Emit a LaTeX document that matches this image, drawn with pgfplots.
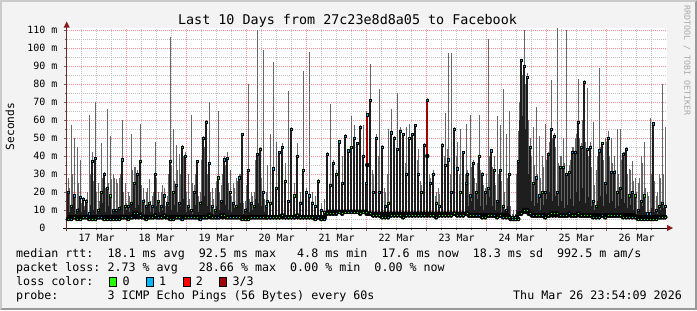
\documentclass[border=0pt]{standalone}
\usepackage{fontspec}
\setmainfont{DejaVu Sans Mono}
\setmonofont{DejaVu Sans Mono}
\usepackage{pgfplots}
\usepackage{pgfplotstable}
\pgfplotsset{compat=1.18}
\definecolor{bg}{HTML}{F3F3F3}
\definecolor{shadea}{HTML}{CBCBCB}
\definecolor{shadeb}{HTML}{999999}
\definecolor{mgrid}{HTML}{F39494}
\definecolor{mingrid}{HTML}{C2C2C2}
\definecolor{smoke}{HTML}{666666}
\definecolor{darkbar}{HTML}{1E1E1E}
\definecolor{lgreen}{HTML}{26FF00}
\definecolor{lblue}{HTML}{00B8FF}
\definecolor{lred}{HTML}{FF0000}
\definecolor{ldred}{HTML}{A10000}
\definecolor{arrowc}{HTML}{8B1A1A}
\definecolor{yaxisc}{HTML}{6B2B2B}
\definecolor{credit}{HTML}{A8A8A8}
\newcommand{\fs}[1]{\fontsize{#1bp}{#1bp}\selectfont}

% main columns: min, top of dark smoke (median), max, loss class
\pgfplotstableread{
x lo dk hi c
1.5 5 20 28 1
4.5 5 12 57 0
7.5 6 18 50 1
10.5 5 10 45 1
13.5 5 17 38 1
16.5 6 16 17 1
19.5 6 15 16 0
22.5 5 8 63 1
25.5 5 37 42 1
28.5 5 39 70 1
31.5 6 10 25 0
34.5 6 20 47 0
37.5 5 30 31 1
40.5 5 22 66 1
43.5 5 18 51 0
46.5 5 10 30 1
49.5 5 10 27 0
52.5 5 11 28 1
55.5 6 38 60 1
58.5 6 12 25 0
61.5 5 12 20 1
64.5 6 14 52 0
67.5 8 25 34 0
70.5 8 30 32 1
73.5 7 37 58 0
76.5 6 15 22 1
79.5 5 12 20 1
82.5 6 14 27 0
85.5 6 12 18 1
88.5 7 30 48 1
91.5 6 15 20 0
94.5 6 12 20 1
97.5 7 18 22 1
100.5 6 14 18 1
103.5 5 37 106 1
106.5 5 20 55 0
109.5 6 24 46 1
112.5 6 14 41 1
115.5 5 45 46 0
118.5 6 40 42 1
121.5 6 12 30 1
124.5 6 10 63 0
127.5 6 20 24 1
130.5 6 37 38 1
133.5 5 14 20 0
136.5 6 50 51 1
139.5 6 59 60 1
142.5 7 36 70 1
145.5 6 12 22 1
148.5 6 10 22 0
151.5 6 28 65 0
154.5 7 15 24 1
157.5 7 38 40 1
160.5 6 39 42 1
163.5 6 20 32 0
166.5 6 14 25 1
169.5 6 12 28 0
172.5 6 28 30 1
175.5 5 52 53 1
178.5 5 10 15 1
181.5 5 32 80 1
184.5 6 14 20 1
187.5 6 12 20 0
190.5 6 41 110 1
193.5 6 44 45 0
196.5 6 20 99 1
199.5 6 12 20 1
200.5 6 15 35 1
203.5 6 14 52 0
206.5 6 33 92 1
209.5 6 22 48 1
212.5 6 42 43 1
215.5 7 45 47 1
218.5 6 26 36 0
221.5 6 15 76 1
224.5 6 55 56 1
227.5 6 18 25 0
230.5 7 40 47 1
233.5 6 14 20 1
236.5 6 32 87 0
239.5 6 20 22 1
242.5 6 18 98 1
245.5 6 14 20 1
248.5 5 12 18 1
251.5 6 26 27 0
254.5 5 10 14 1
257.5 5 9 12 0
260.5 8 41 42 1
263.5 8 24 69 1
266.5 8 36 38 1
269.5 8 30 32 0
272.5 9 48 49 1
275.5 8 25 40 1
278.5 9 51 52 1
281.5 9 43 44 1
284.5 9 45 62 0
287.5 9 50 57 1
290.5 9 47 48 1
293.5 8 56 57 1
296.5 9 40 57 1
299.5 9 25 65 1
300.5 8 63 64 3
303.5 8 71 91 1
306.5 7 20 30 1
309.5 7 50 52 1
312.5 7 20 77 1
315.5 6 45 46 1
318.5 6 12 20 1
321.5 6 14 55 0
324.5 7 53 66 1
327.5 7 50 51 1
330.5 7 44 75 1
333.5 7 54 56 1
336.5 6 52 53 1
339.5 7 30 56 1
342.5 7 50 58 0
345.5 7 52 53 1
348.5 7 57 58 1
351.5 7 30 44 1
354.5 7 20 24 0
357.5 7 46 47 1
360.5 7 71 72 3
363.5 7 25 28 1
366.5 7 30 32 1
369.5 6 14 20 0
372.5 7 12 19 1
375.5 7 46 47 1
378.5 7 35 64 1
381.5 7 38 97 1
384.5 7 20 97 1
387.5 8 55 56 1
390.5 7 33 48 1
393.5 7 20 55 0
396.5 7 42 43 1
399.5 8 25 58 1
400.5 8 30 32 1
403.5 7 18 63 1
406.5 7 36 38 1
409.5 7 20 25 0
412.5 7 40 63 0
415.5 6 30 31 1
418.5 6 20 22 1
421.5 7 22 105 1
424.5 7 43 44 1
427.5 7 32 40 0
430.5 6 15 62 1
433.5 7 32 57 1
436.5 6 12 77 0
439.5 6 10 52 1
442.5 6 30 65 1
445.5 5 6 8 0
448.5 5 6 8 1
451.5 5 37 54 1
454.5 8 93 94 1
457.5 10 90 110 1
460.5 10 84 86 1
463.5 8 45 50 1
466.5 7 25 56 0
469.5 7 28 67 1
472.5 7 18 51 1
475.5 7 20 40 0
478.5 6 20 58 1
481.5 7 41 42 1
484.5 8 55 82 1
487.5 8 51 53 1
490.5 8 20 111 1
493.5 7 34 40 1
496.5 7 34 50 0
499.5 7 30 110 1
502.5 8 31 35 0
505.5 7 42 45 1
508.5 7 42 50 1
511.5 8 59 83 1
514.5 7 45 47 1
517.5 7 81 82 1
520.5 7 44 78 1
523.5 7 45 48 1
526.5 6 15 59 1
529.5 6 12 32 0
532.5 6 43 89 1
535.5 7 47 48 0
538.5 6 25 50 1
541.5 7 50 54 1
544.5 7 31 50 1
547.5 7 31 40 1
550.5 7 20 55 0
553.5 7 22 55 1
556.5 6 41 42 1
559.5 6 44 45 1
562.5 6 18 33 0
565.5 6 20 37 1
568.5 6 18 28 0
571.5 5 10 25 1
574.5 5 15 40 1
577.5 5 18 48 0
580.5 5 8 20 1
583.5 5 8 61 1
586.5 5 58 59 1
589.5 5 10 18 1
592.5 6 12 30 0
595.5 6 14 80 1
598.5 6 12 56 1
}\smokedata

% in-between columns: min, top of dark smoke, max
\pgfplotstableread{
x lo dk hi
3 6 9 22
6 6 12 30
9 6 8 18
12 6 11 25
15 6 9 14
18 6 10 12
21 6 8 20
24 6 13 30
27 6 10 26
30 6 8 20
33 6 11 15
36 6 14 28
39 6 9 22
42 6 12 25
45 6 8 27
48 6 10 28
51 6 9 25
54 6 12 30
57 6 8 20
60 6 10 14
63 6 9 18
66 6 14 32
69 6 11 34
72 6 13 30
75 6 9 24
78 6 8 16
81 6 11 22
84 6 9 15
87 6 8 20
90 6 12 28
93 6 9 14
96 6 10 24
99 6 8 12
102 6 12 30
105 6 10 35
108 6 13 26
111 6 9 32
114 6 12 30
117 6 16 40
120 6 9 20
123 6 10 16
126 6 8 25
129 6 13 30
132 6 9 18
135 6 15 38
138 6 18 45
141 6 12 30
144 6 9 20
147 6 8 16
150 6 12 26
153 6 10 20
156 6 14 30
159 6 13 35
162 6 10 25
165 6 9 18
168 6 11 22
171 6 12 26
174 6 14 30
177 6 8 14
180 6 11 24
183 6 9 16
186 6 10 18
189 6 16 38
192 6 14 40
195 6 12 28
198 6 9 16
201 6 11 24
204 6 13 30
207 6 12 34
210 6 15 36
213 6 14 38
216 6 17 40
219 6 12 30
222 6 14 42
225 6 11 28
228 6 10 24
231 6 15 38
234 6 9 18
237 6 12 26
240 6 9 18
243 6 10 20
246 6 8 16
249 6 9 14
252 6 11 22
255 6 8 12
258 6 9 16
261 9 18 38
264 9 14 34
267 9 20 30
270 9 13 28
273 9 22 44
276 9 15 36
279 9 24 46
282 9 17 40
285 9 21 44
288 9 14 48
291 9 25 44
294 9 18 50
297 9 15 42
300 8 22 50
303 8 16 56
306 8 13 32
309 8 20 45
312 8 14 40
315 8 18 40
318 8 11 22
321 8 13 30
324 8 21 48
327 8 16 46
330 8 19 42
333 8 14 50
336 8 22 46
339 8 13 36
342 8 18 46
345 8 15 48
348 8 20 52
351 8 14 38
354 8 11 26
357 8 17 40
360 8 13 30
363 8 15 30
366 8 12 28
369 8 10 18
372 8 11 22
375 8 18 42
378 8 14 40
381 8 19 44
384 8 12 30
387 8 21 50
390 8 16 40
393 8 12 30
396 8 17 38
399 8 13 30
402 7 12 30
405 7 15 34
408 7 10 28
411 7 16 36
414 7 12 32
417 7 10 24
420 7 13 30
423 7 17 40
426 7 12 34
429 7 10 24
432 7 14 30
435 7 9 26
438 7 10 20
441 7 12 28
444 5 7 12
447 5 7 10
450 6 10 30
453 8 60 70
456 9 62 85
459 9 55 80
462 8 30 60
465 7 15 40
468 7 12 35
471 7 14 30
474 7 10 28
477 7 13 34
480 7 16 38
483 7 20 48
486 7 15 50
489 7 18 45
492 7 12 36
495 7 15 40
498 7 11 36
501 7 13 30
504 7 16 38
507 7 12 45
510 7 20 52
513 7 15 50
516 7 22 60
519 7 14 48
522 7 17 40
525 7 12 34
528 7 10 24
531 7 15 40
534 7 18 45
537 7 12 38
540 7 19 48
543 7 14 40
546 7 15 36
549 7 11 32
552 7 12 30
555 7 16 38
558 7 14 42
561 7 11 30
564 7 13 32
567 7 10 26
570 6 8 20
573 6 10 28
576 6 12 36
579 6 9 22
582 6 8 18
585 6 11 30
588 6 9 26
591 6 8 20
594 6 10 28
597 6 11 30
}\middata

\pgfplotstableread{
x lo dk
300.5 35 63
360.5 40 71
}\lossdata

\begin{document}
\frenchspacing
\begin{tikzpicture}[x=1bp,y=1bp]
\path[use as bounding box] (0,0) rectangle (697,310);
\fill[shadeb] (0,0) rectangle (697,310);
\fill[shadea] (0,0) -- (2,2) -- (2,308) -- (695,308) -- (697,310) -- (0,310) -- cycle;
\fill[bg] (2,2) rectangle (695,308);

\begin{axis}[
  at={(66.7bp,82bp)}, anchor=south west,
  scale only axis, width=600bp, height=199.8bp,
  xmin=0, xmax=600, ymin=0, ymax=111,
  clip=false,
  axis background/.style={fill=white},
  axis line style={draw=none},
  tick pos=left, tick align=outside,
  major tick length=3bp, minor tick length=2bp,
  tick style={line width=0.8bp, color=black!60},
  xtick={60,120,...,540}, xticklabels={},
  minor xtick={15,30,45,75,90,105,135,150,165,195,210,225,255,270,285,315,330,345,375,390,405,435,450,465,495,510,525,555,570,585},
  extra x ticks={30,90,150,210,270,330,390,450,510,570},
  extra x tick labels={17 Mar,18 Mar,19 Mar,20 Mar,21 Mar,22 Mar,23 Mar,24 Mar,25 Mar,26 Mar},
  extra x tick style={grid=none, major tick length=0pt},
  xticklabel style={font=\fs{10}, anchor=north, inner sep=0pt, yshift=-6bp},
  ytick={0,10,...,110},
  yticklabels={0\hphantom{0m},10 m,20 m,30 m,40 m,50 m,60 m,70 m,80 m,90 m,100 m,110 m},
  minor ytick={5,15,...,105},
  yticklabel style={font=\fs{10}, anchor=east, inner sep=0pt, xshift=-6bp},
  grid=both,
  major grid style={color=mgrid, line width=0.9bp, dash pattern=on 1bp off 1bp},
  minor grid style={color=mingrid, line width=0.9bp, dash pattern=on 1bp off 1bp},
]
% smoke: min to max
\addplot[only marks, mark=none, forget plot,
  error bars/.cd, y dir=plus, y explicit, error mark=none,
  error bar style={line width=1.3bp, color=smoke}]
  table[x=x, y=lo, y error expr=\thisrow{hi}-\thisrow{lo}] {\middata};
\addplot[only marks, mark=none, forget plot,
  error bars/.cd, y dir=plus, y explicit, error mark=none,
  error bar style={line width=1.3bp, color=smoke}]
  table[x=x, y=lo, y error expr=\thisrow{hi}-\thisrow{lo}] {\smokedata};
% dark smoke
\addplot[only marks, mark=none, forget plot,
  error bars/.cd, y dir=plus, y explicit, error mark=none,
  error bar style={line width=1.4bp, color=darkbar}]
  table[x=x, y=lo, y error expr=\thisrow{dk}-\thisrow{lo}] {\middata};
\addplot[only marks, mark=none, forget plot,
  error bars/.cd, y dir=plus, y explicit, error mark=none,
  error bar style={line width=2.3bp, color=darkbar}]
  table[x=x, y=lo, y error expr=\thisrow{dk}-\thisrow{lo}] {\smokedata};
\addplot[only marks, mark=none, forget plot,
  error bars/.cd, y dir=plus, y explicit, error mark=none,
  error bar style={line width=2.3bp, color=ldred}]
  table[x=x, y=lo, y error expr=\thisrow{dk}-\thisrow{lo}] {\lossdata};
% median marks coloured by loss
\addplot[only marks, forget plot, mark=square*, mark size=1.1bp,
  mark options={draw=none, fill=lgreen},
  restrict expr to domain={\thisrow{c}}{0:0}]
  table[x=x, y=dk] {\smokedata};
\addplot[only marks, forget plot, mark=square*, mark size=1.1bp,
  mark options={draw=none, fill=lblue},
  restrict expr to domain={\thisrow{c}}{1:3}]
  table[x=x, y=dk] {\smokedata};
\addplot[only marks, forget plot, mark=square*, mark size=1bp,
  mark options={draw=none, fill=lblue},
  restrict expr to domain={\thisrow{c}}{0:0}]
  table[x=x, y=lo] {\smokedata};
\addplot[only marks, forget plot, mark=square*, mark size=1bp,
  mark options={draw=none, fill=lgreen},
  restrict expr to domain={\thisrow{c}}{1:1}]
  table[x=x, y=lo] {\smokedata};
\draw[black, line width=1bp] (axis cs:-3.7,0) -- (axis cs:601,0);
\fill[arrowc] (axis cs:606.5,0) -- ++(-6bp,3bp) -- ++(0,-6bp) -- cycle;
\draw[yaxisc, line width=1bp] (axis cs:0,-1.7) -- (axis cs:0,112.5);
\fill[arrowc] (axis cs:0,114.7) -- ++(3bp,-6bp) -- ++(-6bp,0) -- cycle;
\end{axis}

\node[anchor=base, inner sep=0pt, font=\fs{13.4}] at (347.5,286) {Last 10 Days from 27c23e8d8a05 to Facebook};
\node[rotate=90, inner sep=0pt, font=\fs{11.2}] at (10,183.5) {Seconds};
\node[rotate=-90, anchor=west, inner sep=0pt, font=\fs{8.3}, text=credit] at (687,305) {RRDTOOL / TOBI OETIKER};

\begin{scope}[every node/.style={anchor=base west, inner sep=0pt, font=\fs{11.67}}]
\node at (16,52.3) {median~rtt:~~18.1~ms~avg~~92.5~ms~max~~~4.8~ms~min~~17.6~ms~now~~18.3~ms~sd~~992.5~m~am/s};
\node at (16,38.3) {packet~loss:~2.73~\%~avg~~~28.66~\%~max~~0.00~\%~min~~0.00~\%~now};
\node at (16,24.3) {loss~color:};
\node at (16,10.3) {probe:~~~~~~~3~ICMP~Echo~Pings~(56~Bytes)~every~60s};
\node at (513,10.3) {Thu~Mar~26~23:54:09~2026};
\node at (122.3,24.3) {0};
\node at (159,24.3) {1};
\node at (195.7,24.3) {2};
\node at (232.3,24.3) {3/3};
\end{scope}
\draw[black, line width=0.8bp, fill=lgreen] (109.1,23.7) rectangle (116.1,32.3);
\draw[black, line width=0.8bp, fill=lblue] (146.1,23.7) rectangle (153.1,32.3);
\draw[black, line width=0.8bp, fill=lred] (183.1,23.7) rectangle (190.1,32.3);
\draw[black, line width=0.8bp, fill=ldred] (219.8,23.7) rectangle (226.8,32.3);
\end{tikzpicture}
\end{document}
